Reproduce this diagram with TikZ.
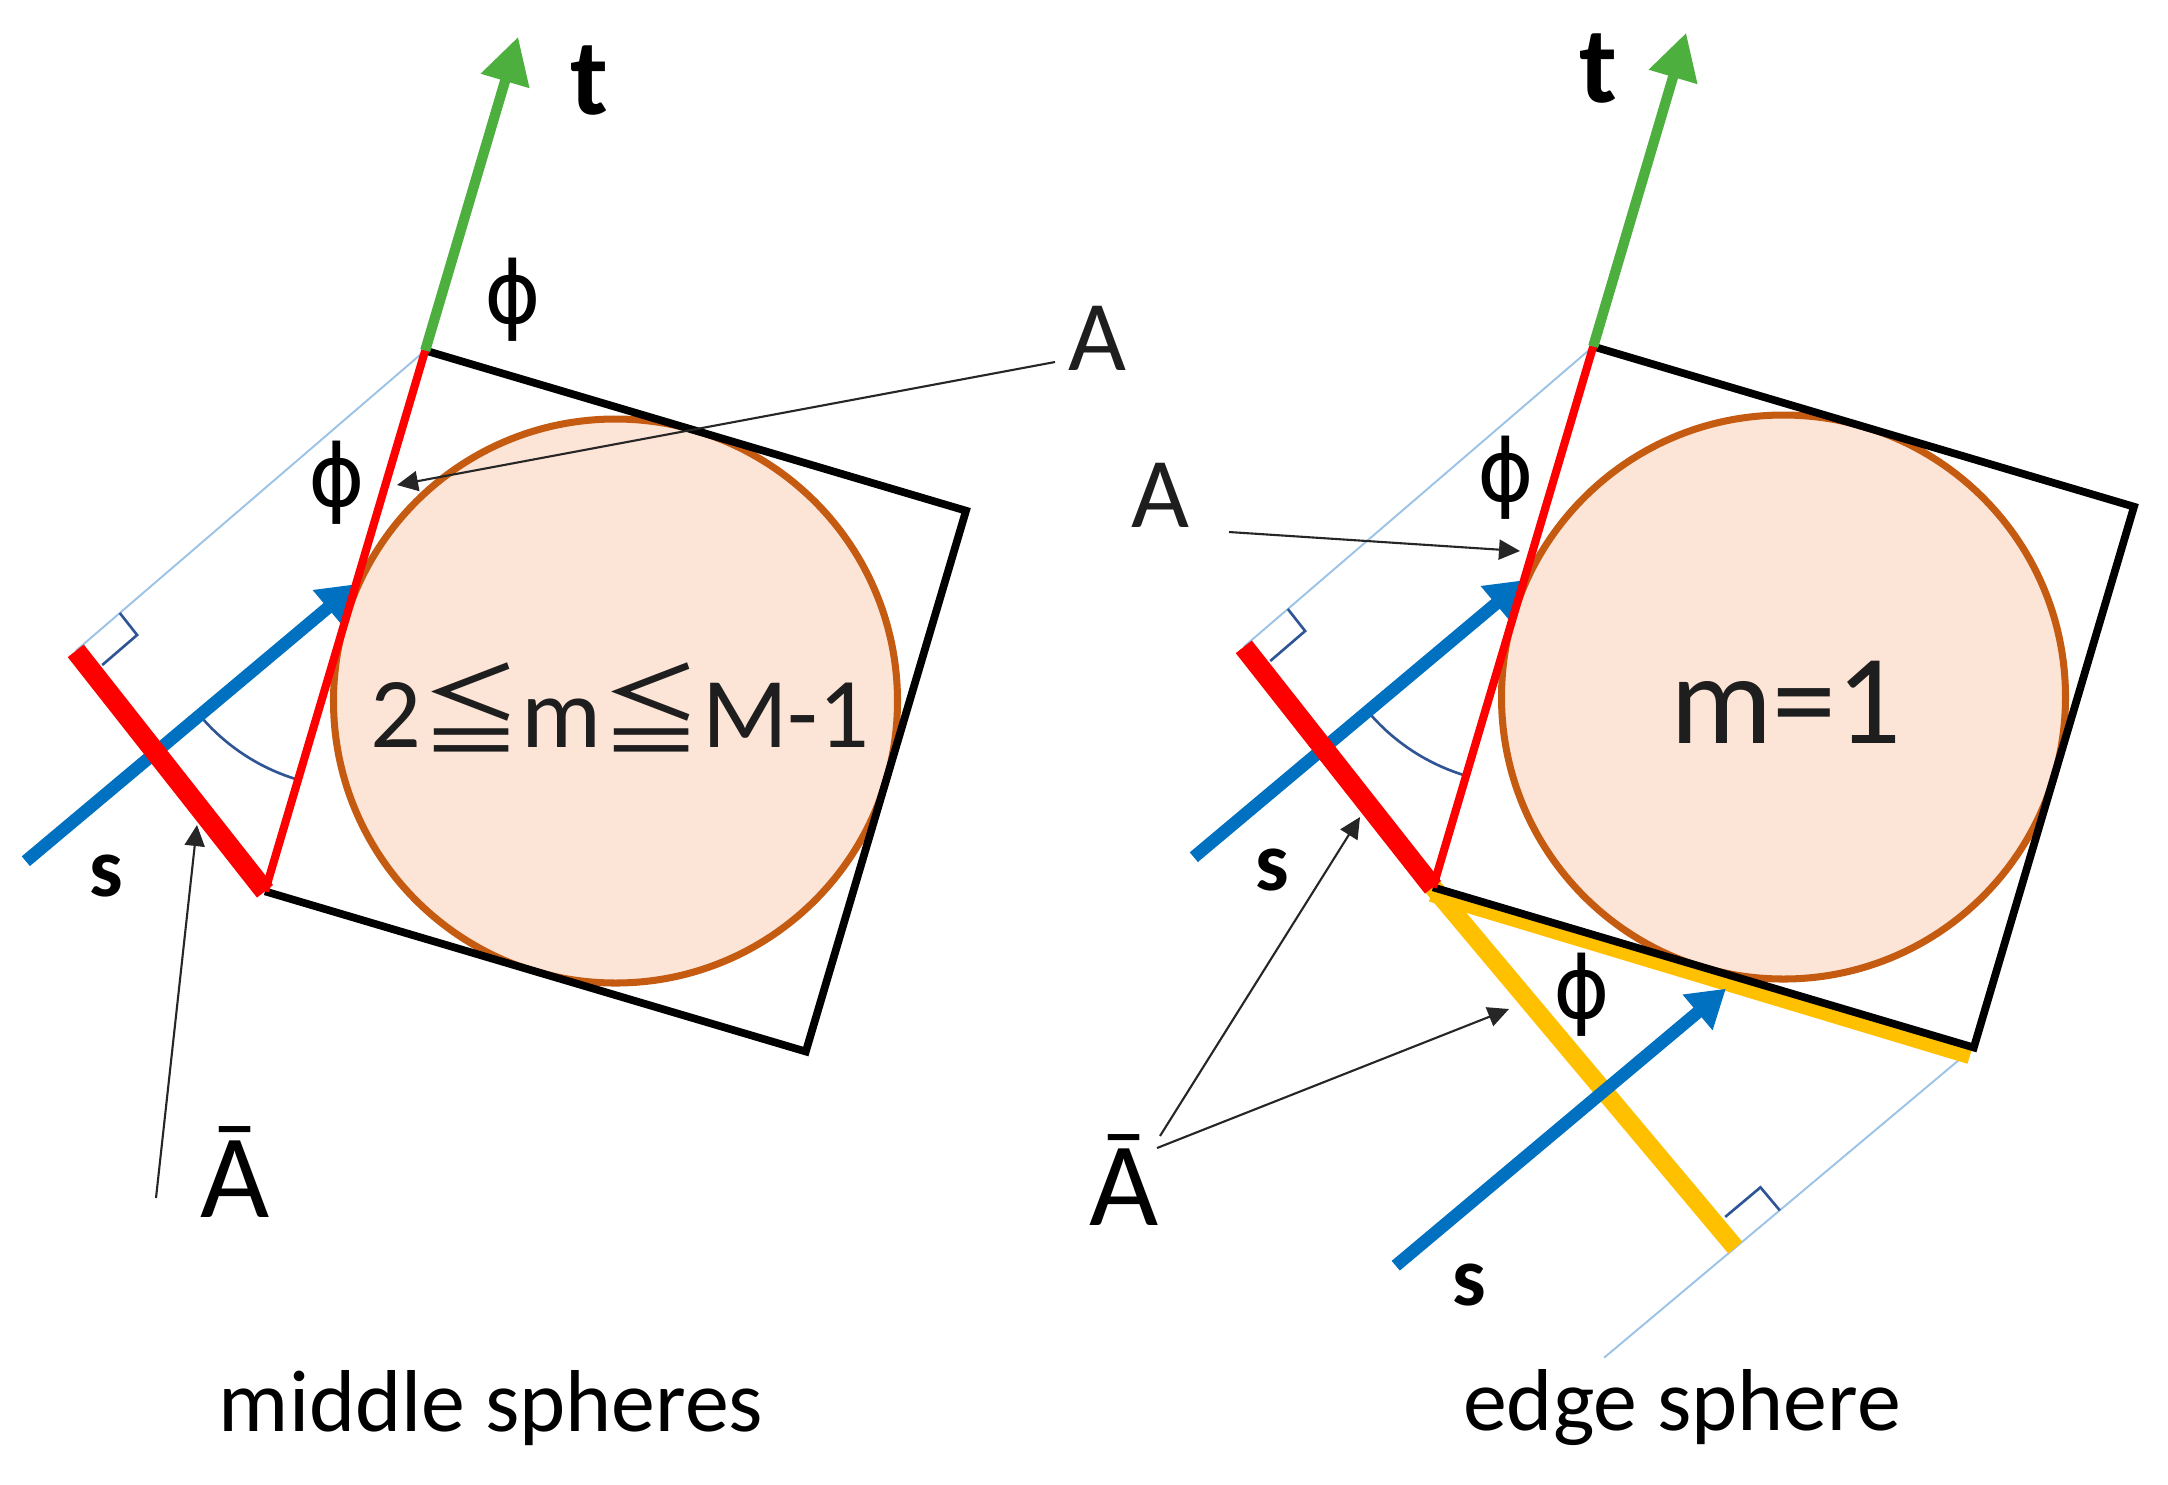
\documentclass[tikz,border=0pt]{standalone}
\usepackage{fontspec}
\setmainfont{Carlito}
\newfontfamily\cjkf{Noto Sans CJK JP}
\newfontfamily\djv{DejaVu Sans}
\usetikzlibrary{arrows.meta,calc}
\definecolor{grn}{HTML}{4CAF3E}
\definecolor{blu}{HTML}{0070C0}
\definecolor{rd}{HTML}{FF0000}
\definecolor{org}{HTML}{FFC000}
\definecolor{peach}{HTML}{FCE4D6}
\definecolor{brn}{HTML}{C55A11}
\definecolor{ltblu}{HTML}{9DC3E6}
\definecolor{dkblu}{HTML}{2F5597}
\definecolor{txt}{HTML}{1E1E1E}
\tikzset{
  sphere/.style={fill=peach,draw=brn,line width=2pt},
  edgeline/.style={draw=black,line width=2.2pt,line join=miter},
  redthin/.style={draw=rd,line width=2.3pt},
  redthick/.style={draw=rd,line width=5.8pt},
  orgthick/.style={draw=org,line width=5.2pt},
  tvec/.style={draw=grn,line width=2.9pt,-{Triangle[length=4.6mm,width=4.8mm]}},
  svec/.style={draw=blu,line width=3.6pt,-{Triangle[length=3.7mm,width=4.4mm]}},
  projline/.style={draw=ltblu,line width=0.55pt},
  anglemark/.style={draw=dkblu,line width=0.75pt},
  callout/.style={draw=black!85,line width=0.6pt,-{Triangle[length=2.1mm,width=2mm]}},
  lbl/.style={inner sep=0pt,anchor=base,text=txt,font=\fontsize{28.5}{30}\selectfont},
  vecl/.style={inner sep=0pt,anchor=base,text=black,font=\bfseries\fontsize{31}{33}\selectfont},
  sl/.style={inner sep=0pt,anchor=base,text=black,font=\bfseries\fontsize{24}{26}\selectfont},
  phil/.style={inner sep=0pt,anchor=center,text=black,font=\djv\fontsize{24.5}{26}\selectfont},
  abarl/.style={inner sep=0pt,anchor=base,text=black,font=\fontsize{34}{36}\selectfont},
  capl/.style={inner sep=0pt,anchor=base,text=black,font=\fontsize{25}{27}\selectfont},
}
\newcommand\phisym{\char"03D5}
\newcommand\panelgeom[1]{%
  \coordinate (C#1) at (0,0);
  \coordinate (P1#1) at (-190.3,-350.5);
  \coordinate (P2#1) at (350.5,-190.3);
  \coordinate (P3#1) at (190.3,350.5);
  \coordinate (P4#1) at (-350.5,190.3);
  \coordinate (T#1) at ($(P1#1)!-0.58!(P4#1)$);
  \coordinate (S#1) at ($(P1#1)!0.432!(P4#1)$);
  \coordinate (S0#1) at ($(S#1)+(140:431)$);
  \coordinate (R#1) at ($(P4#1)+(231.8:306)$);
}
\newcommand\panelback[1]{%
  \path[sphere] (C#1) circle[radius=282];
  \draw[projline] (P1#1) -- (R#1);
  \draw[anglemark] ($(R#1)!0.126!(P1#1)$) coordinate (mk#1) -- ++(51.8:28) -- ++(139.3:46);
  \draw[anglemark] ($(S#1)+(140:204)$) arc[start angle=140,end angle=106.5,radius=204];
}
\newcommand\panelfront[1]{%
  \draw[edgeline] (P4#1) -- (P3#1) -- (P2#1) -- (P1#1);
  \draw[svec] (S0#1) -- (S#1);
  \draw[redthick] (R#1) -- (P4#1);
  \draw[redthin] (P1#1) -- (P4#1);
  \draw[tvec] (P1#1) -- (T#1);
}
\begin{document}
\begin{tikzpicture}[x=0.1mm,y=-0.1mm]
\useasboundingbox (0,0) rectangle (2168,1484);
\fill[white] (0,0) rectangle (2168,1484);

% ---------- left panel: middle spheres ----------
\begin{scope}[shift={(615.5,701)}]
  \panelgeom{L}
  \panelback{L}
  \panelfront{L}
\end{scope}

% ---------- right panel: edge sphere ----------
\begin{scope}[shift={(1783.5,697)}]
  \panelgeom{R}
  \coordinate (W2) at ($(P4R)+(50:100)$);
  \coordinate (F) at ($(P4R)!(P3R)!(W2)$);
  \coordinate (G) at ($(P3R)!1.55!(F)$);
  \coordinate (SbR) at ($(P4R)!0.549!(P3R)+(-4,13.4)$);
  \coordinate (Sb0R) at ($(SbR)+(140:431)$);
  \panelback{R}
  \draw[projline] (P3R) -- (G);
  \draw[anglemark] ($(F)+(-40:58)$) -- ++(230:30) -- ++(140:46);
  \draw[draw=org,line width=4.6pt] ($(P4R)+(-1.7,6.5)$) -- ($(P3R)+(-4,8.5)$);
  \draw[orgthick] (P4R) -- (F);
  \draw[svec] (Sb0R) -- (SbR);
  \panelfront{R}
\end{scope}

% ---------- labels, left ----------
\node[vecl] (tL) at (589,114) {t};
\node[phil] (phiLa) at (513,300) {\phisym};
\node[phil] (phiLb) at (337,483) {\phisym};
\node[lbl] (ALab) at (1097,370) {A};
\node[lbl] (mL) at (620,747) {2{\cjkf ≦}m{\cjkf ≦}M-1};
\node[sl] (sL) at (106,896) {s};
\node[abarl] (AbL) at (235,1217) {\char"0100};
\node[capl] (capL) at (491,1431) {middle spheres};

\coordinate (aLs) at (1055,362);
\coordinate (aLe) at (397,485);
\draw[callout] (aLs) -- (aLe);
\coordinate (abLs) at (156,1198);
\coordinate (abLe) at (197,825);
\draw[callout] (abLs) -- (abLe);

% ---------- labels, right ----------
\node[vecl] (tR) at (1598,102) {t};
\node[phil] (phiRa) at (1506,478) {\phisym};
\node[phil] (phiRb) at (1582,995) {\phisym};
\node[lbl] (ARlab) at (1160,527) {A};
\node[lbl,font=\fontsize{36.4}{38}\selectfont] (mR) at (1786,743) {m=1};
\node[sl] (sRa) at (1272,890) {s};
\node[sl] (sRb) at (1469,1305) {s};
\node[abarl] (AbR) at (1124,1225) {\char"0100};
\node[capl] (capR) at (1682,1430) {edge sphere};

\coordinate (aRs) at (1229,532);
\coordinate (aRe) at (1520,551);
\draw[callout] (aRs) -- (aRe);
\coordinate (abRs1) at (1160,1136);
\coordinate (abRe1) at (1360,817);
\draw[callout] (abRs1) -- (abRe1);
\coordinate (abRs2) at (1157,1148);
\coordinate (abRe2) at (1509,1009);
\draw[callout] (abRs2) -- (abRe2);
\end{tikzpicture}
\end{document}
